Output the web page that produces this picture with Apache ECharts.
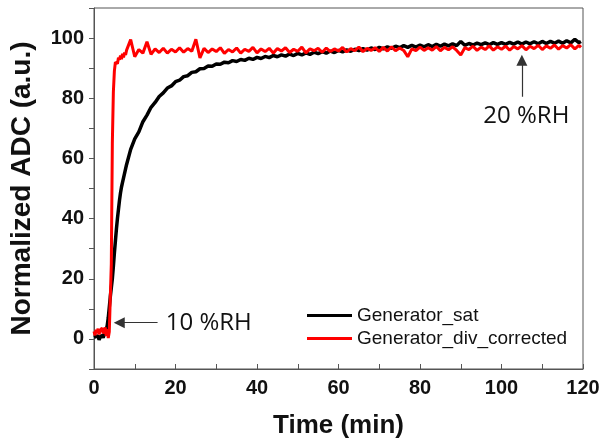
<!DOCTYPE html>
<html>
<head>
<meta charset="utf-8">
<script src="https://cdn.jsdelivr.net/npm/echarts@6/dist/echarts.min.js"></script>
<style>
html,body{margin:0;padding:0;background:#fff;}
#chart{width:605px;height:445px;}
</style>
</head>
<body>
<div id="chart"></div>
<script>
// Time (min)
const time = [0,0.25,0.5,0.75,1,1.25,1.5,1.75,2,2.25,2.5,2.75,3,3.25,3.5,3.75,4,4.25,4.5,4.75,5,5.25,5.5,5.75,6,6.25,6.5,6.75,7,7.25,7.5,7.75,8,
  9,10,11,12,13,14,15,16,17,18,19,20,21,22,23,24,25,26,27,28,29,30,31,32,33,34,35,36,37,38,39,40,41,42,43,44,45,46,47,48,49,50,
  51,52,53,54,55,56,57,58,59,60,61,62,63,64,65,66,67,68,69,70,71,72,73,74,75,76,77,78,79,80,81,82,83,84,85,86,87,88,89,90,
  91,92,93,94,95,96,97,98,99,100,101,102,103,104,105,106,107,108,109,110,111,112,113,114,115,116,117,118,119,119.5];

// Generator_sat (black)
const generatorSat = [0.5,0.0,0.8,0.2,1.0,-0.3,0.6,0.2,1.2,0.4,1.5,2.0,3.0,4.5,7.0,10.5,14.0,17.0,20.0,24.0,28.5,32.5,36.5,40.0,43.0,46.0,48.5,50.5,52.0,53.5,55.0,56.5,58.0,
  63.0,66.5,68.8,72.2,74.4,77.0,78.6,80.6,81.8,83.4,84.1,85.5,86.0,87.2,87.5,88.6,88.8,89.8,89.9,90.7,90.6,91.4,91.3,92.0,91.8,92.5,92.2,92.9,92.6,93.3,92.9,93.6,93.2,93.9,93.5,94.2,93.8,94.4,94.0,94.7,94.2,94.9,
  94.4,95.1,94.6,95.3,94.8,95.5,95.0,95.7,95.2,95.9,95.4,96.1,95.6,96.3,95.8,96.5,96.0,96.7,96.2,96.9,96.4,97.1,96.6,97.3,96.8,97.5,96.9,97.6,97.0,97.7,97.1,97.8,97.2,97.9,97.3,98.0,97.4,98.1,97.5,98.9,
  97.6,98.2,97.7,98.3,97.8,98.4,97.8,98.5,97.9,98.5,97.9,98.6,98.0,98.7,98.0,98.7,98.1,98.8,98.1,98.9,98.2,98.9,98.3,99.0,98.3,99.1,98.4,99.6,98.5,98.9];

// Generator_div_corrected (red)
const generatorDivCorrected = [2.5,1.2,3.0,2.0,3.4,1.5,2.8,2.2,3.6,1.8,2.9,3.8,1.0,3.2,0.3,2.4,3.0,25.0,65.0,82.0,89.0,92.0,92.5,91.5,93.5,92.8,94.2,93.0,94.8,93.6,95.2,94.4,96.0,
  99.5,93.8,96.2,95.0,98.8,94.6,96.4,95.2,96.6,95.0,96.3,95.4,96.8,95.3,96.5,95.6,99.6,93.4,96.6,95.2,96.4,95.5,96.8,94.9,96.2,95.4,96.7,95.0,96.3,95.6,96.9,95.1,96.4,95.5,96.6,95.0,96.5,95.7,96.8,95.2,96.3,95.6,
  97.0,95.1,96.4,95.8,96.6,95.3,96.7,95.5,96.4,95.7,96.9,95.4,96.5,95.8,97.0,95.5,96.6,95.9,96.8,95.6,96.9,95.7,97.1,95.8,96.7,95.9,93.8,96.4,95.8,97.0,95.9,96.8,96.0,97.2,95.8,96.9,96.1,97.1,95.9,94.4,
  96.8,96.2,97.3,95.9,97.0,96.2,97.4,96.0,97.1,96.3,97.3,96.0,97.2,96.4,97.5,96.1,97.3,96.5,97.6,96.2,97.4,96.6,97.7,96.3,97.5,96.7,97.8,96.4,97.6,96.9];

const xTicks = [0,20,40,60,80,100,120];
const yTicks = [0,20,40,60,80,100];
const seriesNames = ['Generator_sat','Generator_div_corrected'];

const pairs = (xs, ys) => xs.map((x, i) => [x, ys[i]]);

const chart = echarts.init(document.getElementById('chart'), null, {renderer:'canvas'});
const labelFont = {fontFamily:'"Liberation Sans", Arial, sans-serif', fontWeight:'bold', fontSize:20, color:'#111'};

chart.setOption({
  animation:false,
  backgroundColor:'#fff',
  grid:{left:93, right:22, top:8, bottom:76, show:true, borderColor:'#555', borderWidth:1, backgroundColor:'transparent'},
  xAxis:{
    type:'value', min:0, max:120, interval:10,
    name:'Time (min)', nameLocation:'middle', nameGap:44,
    nameTextStyle:{fontFamily:'"Liberation Sans", Arial, sans-serif', fontWeight:'bold', fontSize:26, color:'#111'},
    axisLine:{show:true, onZero:false, lineStyle:{color:'#555', width:1}},
    axisTick:{show:true, inside:true, length:5, lineStyle:{color:'#555'}},
    axisLabel:Object.assign({margin:9, formatter:v => xTicks.includes(v) ? String(v) : ''}, labelFont),
    splitLine:{show:false}
  },
  yAxis:{
    type:'value', min:-10, max:110, interval:10,
    name:'Normalized ADC (a.u.)', nameLocation:'middle', nameGap:58,
    nameTextStyle:{fontFamily:'"Liberation Sans", Arial, sans-serif', fontWeight:'bold', fontSize:28, color:'#111'},
    axisLine:{show:true, onZero:false, lineStyle:{color:'#555', width:1}},
    axisTick:{show:true, inside:false, length:5, lineStyle:{color:'#555'}},
    axisLabel:Object.assign({margin:10, formatter:v => yTicks.includes(v) ? String(v) : ''}, labelFont),
    splitLine:{show:false}
  },
  legend:{
    orient:'vertical', left:307, top:306, padding:0, itemWidth:45, itemHeight:3, itemGap:4, icon:'rect',
    textStyle:{fontFamily:'"Liberation Sans", Arial, sans-serif', fontSize:19, color:'#111', lineHeight:19},
    data:seriesNames
  },
  series:[
    {
      name:seriesNames[0], type:'line', data:pairs(time, generatorSat), showSymbol:false,
      color:'#000', lineStyle:{color:'#000', width:3.5}, z:2,
      markLine:{
        silent:true, symbol:['none','triangle'], symbolSize:[11,11],
        lineStyle:{color:'#333', width:1.2, type:'solid'},
        label:{show:false},
        data:[
          [{coord:[15.6,5.4]},{coord:[6.2,5.4]}],
          [{coord:[105,80.5]},{coord:[105,92.6]}]
        ]
      }
    },
    {
      name:seriesNames[1], type:'line', data:pairs(time, generatorDivCorrected), showSymbol:false,
      color:'#ff0000', lineStyle:{color:'#ff0000', width:3}, z:3
    }
  ]
});

const p1 = chart.convertToPixel({gridIndex:0}, [17.6, 5.4]);
const p2 = chart.convertToPixel({gridIndex:0}, [106.1, 74.1]);
const annFont = '24px "Open Sans", "Liberation Sans", sans-serif';
chart.setOption({
  graphic:[
    {type:'text', x:p1[0], y:p1[1], style:{text:'10 %RH', font:annFont, fill:'#111', textAlign:'left', textVerticalAlign:'middle'}},
    {type:'text', x:p2[0], y:p2[1], style:{text:'20 %RH', font:annFont, fill:'#111', textAlign:'center', textVerticalAlign:'middle'}}
  ]
});
</script>
</body>
</html>
